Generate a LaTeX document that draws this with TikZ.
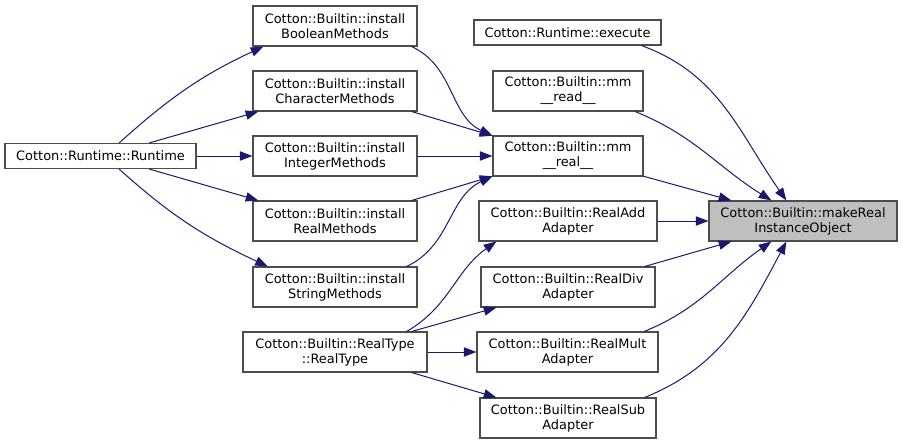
\documentclass[tikz,border=0pt]{standalone}
\usepackage{fontspec}
\setmainfont{DejaVu Sans}
\usetikzlibrary{arrows.meta}
\definecolor{cgedge}{HTML}{191970}
\definecolor{cgborder}{HTML}{4D4D4D}
\definecolor{cgroot}{HTML}{BFBFBF}

\begin{document}
\begin{tikzpicture}[x=0.75pt,y=-0.75pt,
    fn/.style={draw=cgborder,fill=white,line width=0.8pt,align=center,inner sep=0pt,
      minimum height=30pt,font=\fontsize{9.7}{11.25}\selectfont},
    fnone/.style={fn,minimum height=18.75pt},
    call/.style={draw=cgedge,line width=0.75pt,-{Triangle[length=9.5pt,width=7pt]}}]
    \useasboundingbox (0,0) rectangle (903,444);
    % callers on the left
    \node[fnone,minimum width=143.25pt] (runtime) at (100.5,156) {Cotton::Runtime::Runtime};
    \node[fn,minimum width=123pt] (boolm) at (335,26) {Cotton::Builtin::install\\BooleanMethods};
    \node[fn,minimum width=123pt] (charm) at (335,91) {Cotton::Builtin::install\\CharacterMethods};
    \node[fn,minimum width=123pt] (intm) at (335,156) {Cotton::Builtin::install\\IntegerMethods};
    \node[fn,minimum width=123pt] (realm) at (335,221) {Cotton::Builtin::install\\RealMethods};
    \node[fn,minimum width=123pt] (strm) at (335,287) {Cotton::Builtin::install\\StringMethods};
    \node[fn,minimum width=138pt] (realtype) at (335,352) {Cotton::Builtin::RealType\\::RealType};
    % middle column
    \node[fnone,minimum width=140.25pt] (execute) at (567.5,32.5) {Cotton::Runtime::execute};
    \node[fn,minimum width=112.5pt] (mmread) at (568,91) {Cotton::Builtin::mm\\\_\_read\_\_};
    \node[fn,minimum width=112.5pt] (mmreal) at (568,156) {Cotton::Builtin::mm\\\_\_real\_\_};
    \node[fn,minimum width=133.5pt] (realadd) at (568,221) {Cotton::Builtin::RealAdd\\Adapter};
    \node[fn,minimum width=130.5pt] (realdiv) at (568,287) {Cotton::Builtin::RealDiv\\Adapter};
    \node[fn,minimum width=135.75pt] (realmult) at (567.5,352) {Cotton::Builtin::RealMult\\Adapter};
    \node[fn,minimum width=132pt] (realsub) at (568,418) {Cotton::Builtin::RealSub\\Adapter};
    % the function itself
    \node[fn,fill=cgroot,minimum width=141pt] (makereal) at (803,221) {Cotton::Builtin::makeReal\\InstanceObject};

    % straight calls
    \foreach \a/\b in {runtime.15/charm.195, runtime/intm, runtime.-15/realm.165,
        charm.-15/mmreal.165, intm/mmreal, realm.15/mmreal.195,
        mmreal.-15/makereal.164, realadd/makereal, realdiv.15/makereal.196,
        realtype.15/realdiv.196, realtype/realmult, realtype.-15/realsub.164}
      \draw[call] (\a) -- (\b);
    % curved calls
    \draw[call] (runtime.35) to[out=42,in=205] (boolm.196);
    \draw[call] (runtime.-35) to[out=-42,in=155] (strm.163);
    \draw[call] (boolm.-15) to[out=-25,in=155] (mmreal.165);
    \draw[call] (strm.16) to[out=25,in=-155] (mmreal.195);
    \draw[call] (realtype.16) to[out=30,in=-145] (realadd.196);
    \draw[call] (execute.-10) to[out=-20,in=125] (makereal.129);
    \draw[call] (mmread.-17) to[out=-22,in=148] (makereal.147);
    \draw[call] (realmult.15) to[out=22,in=-145] (makereal.213);
    \draw[call] (realsub.15) to[out=22,in=-118] (makereal.231);
\end{tikzpicture}
\end{document}
